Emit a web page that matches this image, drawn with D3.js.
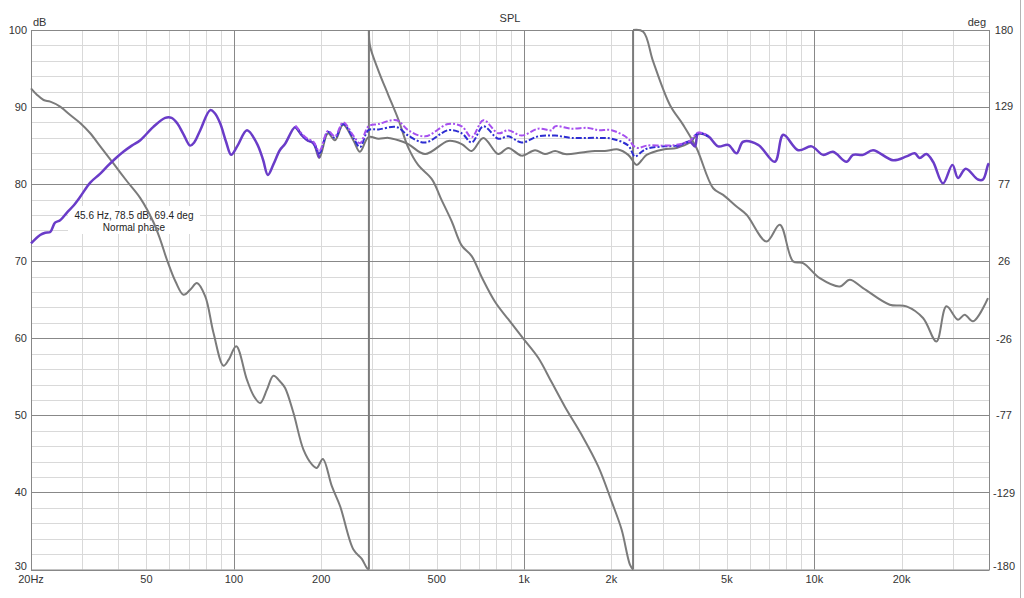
<!DOCTYPE html>
<html>
<head>
<meta charset="utf-8">
<script src="https://cdn.jsdelivr.net/npm/d3@7"></script>
<style>
  html, body { margin: 0; padding: 0; background: #fff; }
  svg { display: block; font-family: "Liberation Sans", Arial, sans-serif; }
</style>
</head>
<body>
<svg id="chart" width="1024" height="598"></svg>
<script>
// axis ticks
const freqTicks = [20, 50, 100, 200, 500, 1000, 2000, 5000, 10000, 20000];
const freqTickLabels = ["20Hz", "50", "100", "200", "500", "1k", "2k", "5k", "10k", "20k"];
const dbTicks = [30, 40, 50, 60, 70, 80, 90, 100];
const degTicks = [-180, -129, -77, -26, 26, 77, 129, 180];

// SPL, solid purple trace: [Hz, dB]
const purpleLow = [
  [20, 72.3], [21.5, 73.4], [22.4, 73.7], [23.3, 73.8], [24.2, 75.0], [25.2, 75.3],
  [26.6, 76.3], [28, 77.2], [29.6, 78.4], [32, 80.2], [34.5, 81.3], [36.6, 82.3],
  [39, 83.3], [41.6, 84.2], [44.5, 85.0], [47.6, 85.7], [52.7, 87.4], [58, 88.6],
  [61, 88.6], [63.8, 87.9], [67, 86.5], [70.7, 85.0], [73, 85.4], [76.6, 87.0],
  [82.9, 89.6], [86, 89.2], [89.7, 87.9], [94, 85.5], [97.9, 83.8], [103, 85.0],
  [111, 87.0], [120, 85.3], [126, 83.2], [131, 81.2], [137, 82.6], [144, 84.4],
  [150, 85.2], [163, 87.4], [171, 86.4], [179, 85.7], [188, 85.3], [197, 83.4]
];
const purpleHigh = [
  [3354, 84.8], [3728, 85.5], [3879, 84.9], [3985, 86.6], [4315, 86.2], [4665, 84.9],
  [5054, 85.1], [5398, 84.0], [5688, 85.5], [6406, 85.1], [7311, 82.9], [7818, 86.4],
  [8805, 84.4], [9784, 84.9], [10724, 83.8], [11608, 84.2], [12910, 82.9], [13604, 83.8],
  [14724, 83.8], [15942, 84.4], [18684, 83.1], [20780, 83.6], [22180, 84.0], [23080, 83.4],
  [24340, 83.9], [25660, 82.9], [27760, 80.1], [29920, 82.5], [31280, 80.8], [33260, 82.0],
  [36660, 80.6], [38140, 80.6], [39680, 82.5], [40000, 82.7]
];

// SPL, grey solid trace
const splGrey = [
  [163, 87.4], [171, 86.4], [179, 85.7], [188, 85.3], [197, 83.4], [211, 86.6],
  [223, 85.7], [238, 87.7], [258, 85.7], [272, 84.2], [291, 86.1], [315, 85.9],
  [341, 86.0], [369, 85.7], [399, 85.2], [456, 83.9], [548, 85.6], [610, 85.2],
  [660, 84.3], [724, 86.0], [815, 83.9], [882, 84.7], [981, 83.7], [1091, 84.4],
  [1180, 83.9], [1279, 84.3], [1384, 83.9], [1579, 84.1], [1755, 84.3], [1899, 84.3],
  [2110, 84.5], [2286, 83.8], [2443, 82.5], [2542, 83.1], [2644, 83.8], [3016, 84.5],
  [3354, 84.7], [3728, 85.4], [3985, 86.5], [4315, 86.2]
];

// SPL, blue dash-dot trace
const splBlue = [
  [163, 87.5], [171, 86.5], [179, 85.8], [188, 85.4], [197, 84.0], [211, 86.8],
  [223, 86.0], [238, 87.8], [258, 86.0], [272, 84.8], [291, 87.0], [315, 87.1],
  [364, 87.4], [399, 86.3], [456, 85.4], [548, 87.0], [610, 86.6], [660, 85.4],
  [724, 87.5], [815, 85.9], [882, 86.2], [981, 85.4], [1119, 86.2], [1279, 86.3],
  [1459, 86.0], [1801, 86.0], [2003, 85.9], [2286, 85.0], [2408, 83.6], [2542, 84.2],
  [2644, 84.6], [3016, 84.9], [3354, 85.0], [3728, 85.6], [3985, 86.6], [4315, 86.2]
];

// SPL, violet dash-dot trace
const splViolet = [
  [163, 87.6], [171, 86.6], [179, 85.9], [188, 85.5], [197, 84.3], [211, 86.9],
  [223, 86.2], [238, 88.0], [258, 86.3], [272, 85.3], [291, 87.5], [315, 87.8],
  [364, 88.3], [399, 87.0], [456, 86.2], [548, 87.8], [610, 87.5], [660, 86.1],
  [724, 88.3], [815, 86.6], [882, 87.0], [981, 86.3], [1119, 87.2], [1245, 87.0],
  [1279, 87.5], [1459, 87.2], [1664, 87.3], [1801, 87.0], [2003, 87.0], [2286, 85.9],
  [2378, 85.0], [2474, 84.7], [2644, 85.0], [3016, 85.0], [3354, 85.1], [3728, 85.6],
  [3985, 86.7], [4315, 86.3]
];

// phase (deg), wrapped at +/-180, one array per branch
const phaseSeg1 = [
  [20, 141.1], [21, 136.7], [22.1, 133.3], [23.3, 132.2], [25.2, 128.9], [27.3, 123.3],
  [29.6, 117.8], [32, 111.1], [34.7, 102.2], [38.4, 91.1], [42.9, 78.9], [47.6, 67.8],
  [52.7, 52.2], [55.8, 40], [58.8, 26.7], [63, 12], [67.1, 3.3], [71, 7],
  [74.6, 11.1], [79.7, 2.2], [85.1, -22.2], [92.1, -44], [96, -40], [101.9, -31.1],
  [110.9, -53.3], [117, -64], [123.2, -68.9], [130, -60], [136.9, -50.7], [145, -55],
  [150.2, -58.9], [160.5, -75.6], [173.7, -100], [186, -110], [193.1, -112.2], [202.6, -106.2],
  [217.6, -124.4], [232.4, -137.8], [258.2, -166.7], [276, -172.9], [287.2, -178.9], [292, -180]
];
const phaseSeg2 = [
  [292, 180], [294.6, 169.3], [314.8, 152.9], [340.6, 136.6], [369, 120.2], [399, 101.5],
  [432, 89.8], [481, 80.5], [520, 66.5], [563, 52.4], [610, 36.1], [660, 29.1],
  [715, 15.0], [794, -1.3], [882, -13.0], [994, -25.9], [1119, -38.7], [1245, -55.1],
  [1384, -71.5], [1579, -90.1], [1801, -111.2], [2003, -134.6], [2168, -153.3], [2316, -176.7],
  [2375, -180]
];
const phaseSeg3 = [
  [2375, 180], [2574, 178.9], [2786, 158.9], [3181, 130], [3534, 116.7], [3932, 101.1],
  [4484, 74.4], [4853, 70], [5398, 62.2], [5845, 56.7], [6846, 38.9], [7606, 50],
  [8453, 25.6], [9151, 24.4], [10447, 14.4], [12240, 8.9], [13252, 13.3], [14724, 7.8],
  [18197, -3.3], [20780, -4.4], [23700, -12.2], [26360, -27.8], [28540, -4.4], [31280, -13.3],
  [32980, -10], [35240, -14.4], [39680, 1.1]
];

const cursorText = ["45.6 Hz, 78.5 dB, 69.4 deg", "Normal phase"];

const svg = d3.select("#chart");
const plotL = 31, plotR = 989, plotT = 30, plotB = 569.5;

const x = d3.scaleLog().domain([20, 40000]).range([plotL, plotR]);
const y = d3.scaleLinear().domain([30, 100]).range([plotB, plotT]);
const yDeg = d3.scaleLinear().domain([-180, 180]).range([plotB, plotT]);

svg.append("rect").attr("width", 1024).attr("height", 598).attr("fill", "#fff");

// grid
const grid = svg.append("g");
const minorHz = [];
[10, 100, 1000, 10000].forEach(dec => {
  for (let m = 2; m <= 9; m++) {
    const f = dec * m;
    if (f > 20 && f < 40000) minorHz.push(f);
  }
});
grid.selectAll(".vminor").data(minorHz).enter().append("line")
  .attr("x1", d => Math.round(x(d)) + 0.5).attr("x2", d => Math.round(x(d)) + 0.5)
  .attr("y1", plotT).attr("y2", plotB)
  .attr("stroke", "#d9d9d9").attr("stroke-width", 1);
grid.selectAll(".hminor").data(d3.range(32, 100, 2).filter(v => v % 10 !== 0)).enter().append("line")
  .attr("x1", plotL).attr("x2", plotR)
  .attr("y1", d => Math.round(y(d)) + 0.5).attr("y2", d => Math.round(y(d)) + 0.5)
  .attr("stroke", "#d9d9d9").attr("stroke-width", 1);
grid.selectAll(".vmajor").data([100, 1000, 10000]).enter().append("line")
  .attr("x1", d => Math.round(x(d)) + 0.5).attr("x2", d => Math.round(x(d)) + 0.5)
  .attr("y1", plotT).attr("y2", plotB)
  .attr("stroke", "#888").attr("stroke-width", 1);
grid.selectAll(".hmajor").data(dbTicks).enter().append("line")
  .attr("x1", plotL).attr("x2", plotR)
  .attr("y1", d => Math.round(y(d)) + 0.5).attr("y2", d => Math.round(y(d)) + 0.5)
  .attr("stroke", "#888").attr("stroke-width", 1);
svg.append("rect")
  .attr("x", plotL + 0.5).attr("y", plotT + 0.5)
  .attr("width", plotR - plotL).attr("height", plotB - plotT)
  .attr("fill", "none").attr("stroke", "#888");

// cursor readout box
svg.append("rect")
  .attr("x", 68).attr("y", 206).attr("width", 132).attr("height", 28)
  .attr("fill", "#fff");
svg.selectAll(".cursor").data(cursorText).enter().append("text")
  .attr("x", 134).attr("y", (d, i) => 219 + i * 11.5)
  .attr("text-anchor", "middle").attr("font-size", 10).attr("fill", "#222")
  .text(d => d);

// curves
const smooth = d3.curveCatmullRom.alpha(0.5);
const splLine = d3.line().x(d => x(d[0])).y(d => y(d[1])).curve(smooth);
const phaseLine = d3.line().x(d => x(d[0])).y(d => yDeg(d[1])).curve(smooth);
const jumpLine = d3.line().x(d => x(d[0])).y(d => yDeg(d[1]));

const curves = svg.append("g").attr("fill", "none").attr("stroke-linejoin", "round");

[phaseSeg1, phaseSeg2, phaseSeg3].forEach(seg => {
  curves.append("path").attr("d", phaseLine(seg))
    .attr("stroke", "#7b7b7b").attr("stroke-width", 2);
});
[[phaseSeg1, phaseSeg2], [phaseSeg2, phaseSeg3]].forEach(([a, b]) => {
  curves.append("path").attr("d", jumpLine([a[a.length - 1], b[0]]))
    .attr("stroke", "#7b7b7b").attr("stroke-width", 2);
});

curves.append("path").attr("d", splLine(splGrey))
  .attr("stroke", "#777").attr("stroke-width", 2);
curves.append("path").attr("d", splLine(purpleLow))
  .attr("stroke", "#6a3cc8").attr("stroke-width", 2.5);
curves.append("path").attr("d", splLine(purpleHigh))
  .attr("stroke", "#6a3cc8").attr("stroke-width", 2.5);
curves.append("path").attr("d", splLine(splBlue))
  .attr("stroke", "#2d2dd2").attr("stroke-width", 2).attr("stroke-dasharray", "6,2,2,2");
curves.append("path").attr("d", splLine(splViolet))
  .attr("stroke", "#a650ef").attr("stroke-width", 2).attr("stroke-dasharray", "6,2,2,2");

// axis labels (bottom dB label sits just above the frame, like the reference)
const txt = svg.append("g").attr("font-size", 11).attr("fill", "#333");
txt.selectAll(".db").data(dbTicks).enter().append("text")
  .attr("x", 27).attr("y", d => Math.min(y(d) + 4, 570))
  .attr("text-anchor", "end").text(d => d);
txt.selectAll(".deg").data(degTicks).enter().append("text")
  .attr("x", 1004).attr("y", d => Math.min(yDeg(d) + 4, 570))
  .attr("text-anchor", "middle").text(d => d);
txt.selectAll(".hz").data(freqTicks).enter().append("text")
  .attr("x", d => x(d)).attr("y", 583)
  .attr("text-anchor", "middle").text((d, i) => freqTickLabels[i]);
txt.append("text").attr("x", 33).attr("y", 26).text("dB");
txt.append("text").attr("x", 986).attr("y", 26).attr("text-anchor", "end").text("deg");
txt.append("text").attr("x", 510).attr("y", 22).attr("text-anchor", "middle").text("SPL");

// window edge
svg.append("line").attr("x1", 1020.5).attr("x2", 1020.5).attr("y1", 0).attr("y2", 598)
  .attr("stroke", "#b4b4b4");
</script>
</body>
</html>
